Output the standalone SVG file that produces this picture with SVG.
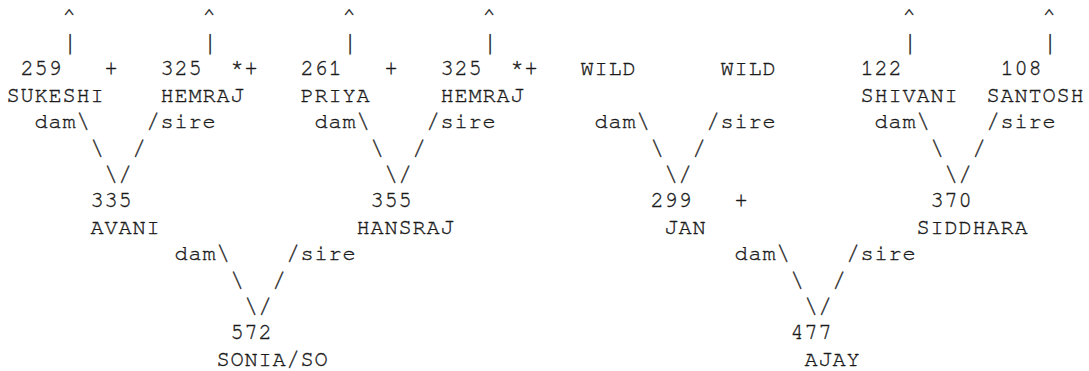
<svg xmlns="http://www.w3.org/2000/svg" width="1089" height="371" viewBox="0 0 1089 371">
<style>
text { font-family: "Nimbus Mono PS", "FreeMono", "Courier New", "Liberation Mono", monospace; font-size: 22px; letter-spacing: 0.8px; fill: #1a1a1a; stroke: #1a1a1a; stroke-width: 0.35px; }
text.bar { font-size: 27px; letter-spacing: 0; }
</style>
<rect width="1089" height="371" fill="#fff"/>
<g id="connectors">
  <text x="62.5" y="22.5">^</text><text x="202.5" y="22.5">^</text><text x="342.5" y="22.5">^</text><text x="482.5" y="22.5">^</text><text x="902.5" y="22.5">^</text><text x="1042.5" y="22.5">^</text>
  <text class="bar" x="62" y="50.5">|</text><text class="bar" x="202" y="50.5">|</text><text class="bar" x="342" y="50.5">|</text><text class="bar" x="482" y="50.5">|</text><text class="bar" x="902" y="50.5">|</text><text class="bar" x="1042" y="50.5">|</text>
  <text x="104.5" y="75.3">+</text><text x="230.5" y="75.3">*+</text><text x="384.5" y="75.3">+</text><text x="510.5" y="75.3">*+</text>
  <text x="734.5" y="207.3">+</text>
  <text x="34.5" y="128.1">dam\</text><text x="146.5" y="128.1">/sire</text>
  <text x="90.5" y="154.5">\</text><text x="132.5" y="154.5">/</text>
  <text x="104.5" y="180.9">\/</text>
  <text x="314.5" y="128.1">dam\</text><text x="426.5" y="128.1">/sire</text>
  <text x="370.5" y="154.5">\</text><text x="412.5" y="154.5">/</text>
  <text x="384.5" y="180.9">\/</text>
  <text x="594.5" y="128.1">dam\</text><text x="706.5" y="128.1">/sire</text>
  <text x="650.5" y="154.5">\</text><text x="692.5" y="154.5">/</text>
  <text x="664.5" y="180.9">\/</text>
  <text x="874.5" y="128.1">dam\</text><text x="986.5" y="128.1">/sire</text>
  <text x="930.5" y="154.5">\</text><text x="972.5" y="154.5">/</text>
  <text x="944.5" y="180.9">\/</text>
  <text x="174.5" y="260.1">dam\</text><text x="286.5" y="260.1">/sire</text>
  <text x="230.5" y="286.5">\</text><text x="272.5" y="286.5">/</text>
  <text x="244.5" y="312.9">\/</text>
  <text x="734.5" y="260.1">dam\</text><text x="846.5" y="260.1">/sire</text>
  <text x="790.5" y="286.5">\</text><text x="832.5" y="286.5">/</text>
  <text x="804.5" y="312.9">\/</text>
</g>
<g id="node-sukeshi"><text x="20.5" y="75.3">259</text><text x="6.5" y="101.7">SUKESHI</text></g>
<g id="node-hemraj-1"><text x="160.5" y="75.3">325</text><text x="160.5" y="101.7">HEMRAJ</text></g>
<g id="node-priya"><text x="300.5" y="75.3">261</text><text x="300.5" y="101.7">PRIYA</text></g>
<g id="node-hemraj-2"><text x="440.5" y="75.3">325</text><text x="440.5" y="101.7">HEMRAJ</text></g>
<g id="node-wild-dam"><text x="580.5" y="75.3">WILD</text></g>
<g id="node-wild-sire"><text x="720.5" y="75.3">WILD</text></g>
<g id="node-shivani"><text x="860.5" y="75.3">122</text><text x="860.5" y="101.7">SHIVANI</text></g>
<g id="node-santosh"><text x="1000.5" y="75.3">108</text><text x="986.5" y="101.7">SANTOSH</text></g>
<g id="node-avani"><text x="90.5" y="207.3">335</text><text x="90.5" y="233.7">AVANI</text></g>
<g id="node-hansraj"><text x="370.5" y="207.3">355</text><text x="356.5" y="233.7">HANSRAJ</text></g>
<g id="node-jan"><text x="650.5" y="207.3">299</text><text x="664.5" y="233.7">JAN</text></g>
<g id="node-siddhara"><text x="930.5" y="207.3">370</text><text x="916.5" y="233.7">SIDDHARA</text></g>
<g id="node-sonia"><text x="230.5" y="339.3">572</text><text x="216.5" y="365.7">SONIA/SO</text></g>
<g id="node-ajay"><text x="790.5" y="339.3">477</text><text x="804.5" y="365.7">AJAY</text></g>
</svg>
